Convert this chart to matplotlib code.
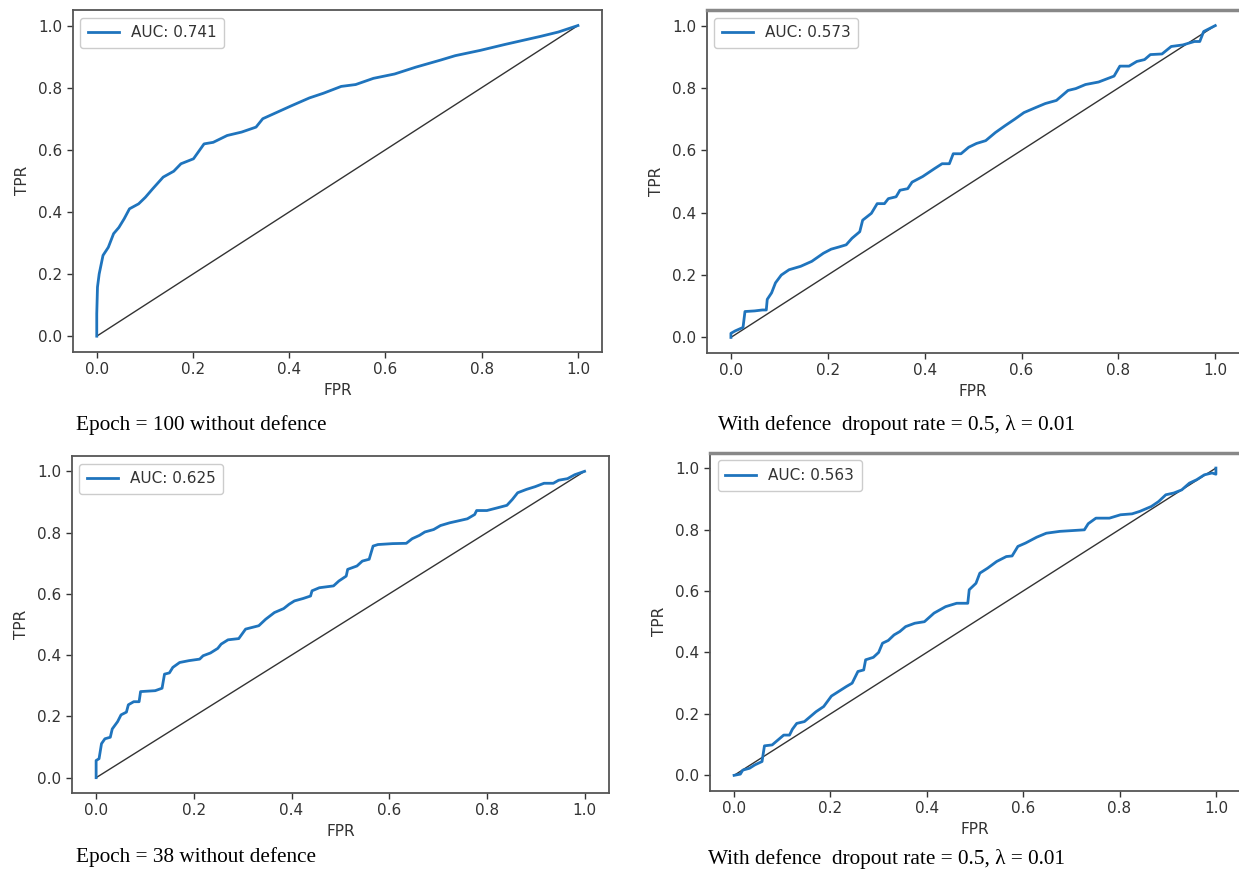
import matplotlib
matplotlib.use("Agg")
import matplotlib.pyplot as plt

# ---------------- data ----------------
fpr_a = [0, 0, 0.0015, 0.005, 0.013, 0.024, 0.035, 0.046, 0.057, 0.068, 0.087, 0.101, 0.116,
         0.138, 0.16, 0.175, 0.201, 0.223, 0.242, 0.271, 0.301, 0.331, 0.345, 0.375, 0.405,
         0.442, 0.471, 0.508, 0.538, 0.575, 0.619, 0.663, 0.715, 0.745, 0.797, 0.848, 0.885,
         0.922, 0.959, 1.0]
tpr_a = [0, 0.072, 0.158, 0.20, 0.26, 0.286, 0.33, 0.35, 0.378, 0.41, 0.426, 0.447, 0.474,
         0.512, 0.531, 0.555, 0.571, 0.619, 0.624, 0.646, 0.657, 0.673, 0.70, 0.721, 0.742,
         0.767, 0.782, 0.804, 0.81, 0.83, 0.844, 0.866, 0.889, 0.903, 0.92, 0.939, 0.952,
         0.965, 0.979, 1.0]

fpr_b = [0, 0, 0.009, 0.025, 0.029, 0.049, 0.065, 0.073, 0.075, 0.084, 0.092, 0.104, 0.12,
         0.144, 0.167, 0.191, 0.207, 0.223, 0.238, 0.25, 0.266, 0.272, 0.29, 0.302, 0.317,
         0.325, 0.341, 0.349, 0.365, 0.374, 0.396, 0.42, 0.436, 0.451, 0.459, 0.475, 0.491,
         0.507, 0.526, 0.546, 0.566, 0.586, 0.605, 0.629, 0.649, 0.672, 0.696, 0.712, 0.732,
         0.759, 0.791, 0.803, 0.822, 0.838, 0.854, 0.866, 0.89, 0.909, 0.933, 0.957, 0.968,
         0.976, 1.0]
tpr_b = [0, 0.013, 0.021, 0.032, 0.083, 0.085, 0.088, 0.088, 0.122, 0.143, 0.175, 0.20, 0.217,
         0.228, 0.244, 0.27, 0.283, 0.29, 0.297, 0.318, 0.339, 0.376, 0.398, 0.429, 0.429,
         0.445, 0.451, 0.472, 0.477, 0.498, 0.516, 0.541, 0.557, 0.557, 0.589, 0.589, 0.61,
         0.622, 0.631, 0.657, 0.679, 0.70, 0.721, 0.737, 0.75, 0.76, 0.792, 0.798, 0.811,
         0.819, 0.838, 0.87, 0.87, 0.885, 0.891, 0.907, 0.909, 0.933, 0.938, 0.949, 0.949,
         0.981, 1.0]

fpr_c = [0, 0, 0.006, 0.011, 0.018, 0.029, 0.033, 0.044, 0.051, 0.062, 0.066, 0.077, 0.088,
         0.091, 0.121, 0.135, 0.14, 0.15, 0.157, 0.171, 0.19, 0.212, 0.219, 0.234, 0.249,
         0.256, 0.27, 0.292, 0.306, 0.333, 0.347, 0.365, 0.384, 0.395, 0.406, 0.424, 0.439,
         0.442, 0.457, 0.486, 0.497, 0.512, 0.515, 0.534, 0.545, 0.559, 0.567, 0.577, 0.607,
         0.635, 0.647, 0.662, 0.673, 0.691, 0.705, 0.724, 0.738, 0.76, 0.775, 0.779, 0.80,
         0.822, 0.841, 0.852, 0.863, 0.881, 0.899, 0.917, 0.936, 0.947, 0.965, 0.98, 1.0]
tpr_c = [0, 0.056, 0.062, 0.111, 0.127, 0.132, 0.159, 0.183, 0.205, 0.214, 0.238, 0.248, 0.248,
         0.281, 0.284, 0.292, 0.338, 0.342, 0.36, 0.376, 0.382, 0.387, 0.398, 0.407, 0.422,
         0.436, 0.45, 0.454, 0.485, 0.496, 0.517, 0.539, 0.552, 0.566, 0.577, 0.585, 0.593,
         0.61, 0.62, 0.626, 0.642, 0.658, 0.68, 0.691, 0.707, 0.713, 0.756, 0.761, 0.764,
         0.765, 0.78, 0.791, 0.802, 0.81, 0.823, 0.832, 0.837, 0.845, 0.859, 0.872, 0.872,
         0.881, 0.889, 0.908, 0.93, 0.941, 0.95, 0.961, 0.961, 0.971, 0.976, 0.989, 1.0]

fpr_d = [0, 0.013, 0.018, 0.032, 0.043, 0.058, 0.063, 0.079, 0.091, 0.103, 0.115, 0.121, 0.13,
         0.146, 0.158, 0.17, 0.186, 0.202, 0.217, 0.233, 0.245, 0.257, 0.269, 0.273, 0.289,
         0.30, 0.308, 0.32, 0.332, 0.344, 0.356, 0.375, 0.395, 0.415, 0.439, 0.462, 0.485,
         0.488, 0.502, 0.51, 0.526, 0.545, 0.565, 0.577, 0.589, 0.605, 0.628, 0.648, 0.676,
         0.727, 0.735, 0.751, 0.779, 0.802, 0.826, 0.842, 0.866, 0.881, 0.896, 0.913, 0.929,
         0.945, 0.96, 0.976, 0.992, 1.0, 1.0]
tpr_d = [0, 0.004, 0.017, 0.023, 0.034, 0.045, 0.096, 0.099, 0.115, 0.131, 0.131, 0.15, 0.169,
         0.175, 0.191, 0.207, 0.224, 0.258, 0.273, 0.289, 0.30, 0.338, 0.343, 0.376, 0.384,
         0.40, 0.43, 0.439, 0.457, 0.468, 0.484, 0.495, 0.50, 0.528, 0.549, 0.56, 0.56,
         0.604, 0.625, 0.658, 0.674, 0.696, 0.712, 0.714, 0.745, 0.756, 0.775, 0.788, 0.794,
         0.799, 0.819, 0.837, 0.837, 0.848, 0.851, 0.859, 0.875, 0.891, 0.913, 0.919, 0.929,
         0.951, 0.962, 0.978, 0.984, 0.98, 1.0]

auc_labels = ["AUC: 0.741", "AUC: 0.573", "AUC: 0.625", "AUC: 0.563"]
captions = ["Epoch = 100 without defence",
            "With defence  dropout rate = 0.5, \u03bb = 0.01",
            "Epoch = 38 without defence",
            "With defence  dropout rate = 0.5, \u03bb = 0.01"]
ticks = [0.0, 0.2, 0.4, 0.6, 0.8, 1.0]
tick_labels = ["0.0", "0.2", "0.4", "0.6", "0.8", "1.0"]

# ---------------- figure ----------------
W, H = 1239, 872
fig = plt.figure(figsize=(W / 100, H / 100), dpi=100)
fig.patch.set_facecolor("white")

# (left, right, top, bottom) in pixels
boxes = [(72.7, 602, 10, 351.7),
         (706.7, 1239.5, 10, 353),
         (71.7, 609, 456, 793),
         (710, 1240, 452.7, 790.7)]
cap_pos = [(76, 425), (718, 425), (76, 857), (708, 859)]

series = [(fpr_a, tpr_a), (fpr_b, tpr_b), (fpr_c, tpr_c), (fpr_d, tpr_d)]
blue = "#1f74bd"
text_col = "#333333"

for i, ((l, r, t, b), (fx, ty)) in enumerate(zip(boxes, series)):
    ax = fig.add_axes([l / W, 1 - b / H, (r - l) / W, (b - t) / H])
    ax.plot([0, 1], [0, 1], color="#333333", lw=1.0)
    ax.plot(fx, ty, color=blue, lw=2.0, label=auc_labels[i])
    ax.set_xlim(-0.05, 1.05)
    ax.set_ylim(-0.05, 1.05)
    ax.set_xticks(ticks)
    ax.set_xticklabels(tick_labels)
    ax.set_yticks(ticks)
    ax.set_yticklabels(tick_labels)
    ax.tick_params(labelsize=11, colors=text_col, length=4, width=1)
    for sp in ax.spines.values():
        sp.set_color("#555555")
        sp.set_linewidth(1.3)
    if i in (1, 3):
        ax.spines["top"].set_color("#888888")
        ax.spines["top"].set_linewidth(2.5)
    ax.set_xlabel("FPR", fontsize=11, color=text_col, labelpad=4)
    ax.set_ylabel("TPR", fontsize=11, color=text_col, labelpad=6)
    leg = ax.legend(loc="upper left", fontsize=11, handlelength=2.0,
                    borderpad=0.5, framealpha=1.0, fancybox=True)
    leg.get_frame().set_edgecolor("#cccccc")
    for txt in leg.get_texts():
        txt.set_color(text_col)
    fig.text(cap_pos[i][0] / W, 1 - cap_pos[i][1] / H, captions[i],
             family="Liberation Serif", fontsize=15.3, color="black",
             ha="left", va="center")

fig.savefig("out.png", dpi=100)
